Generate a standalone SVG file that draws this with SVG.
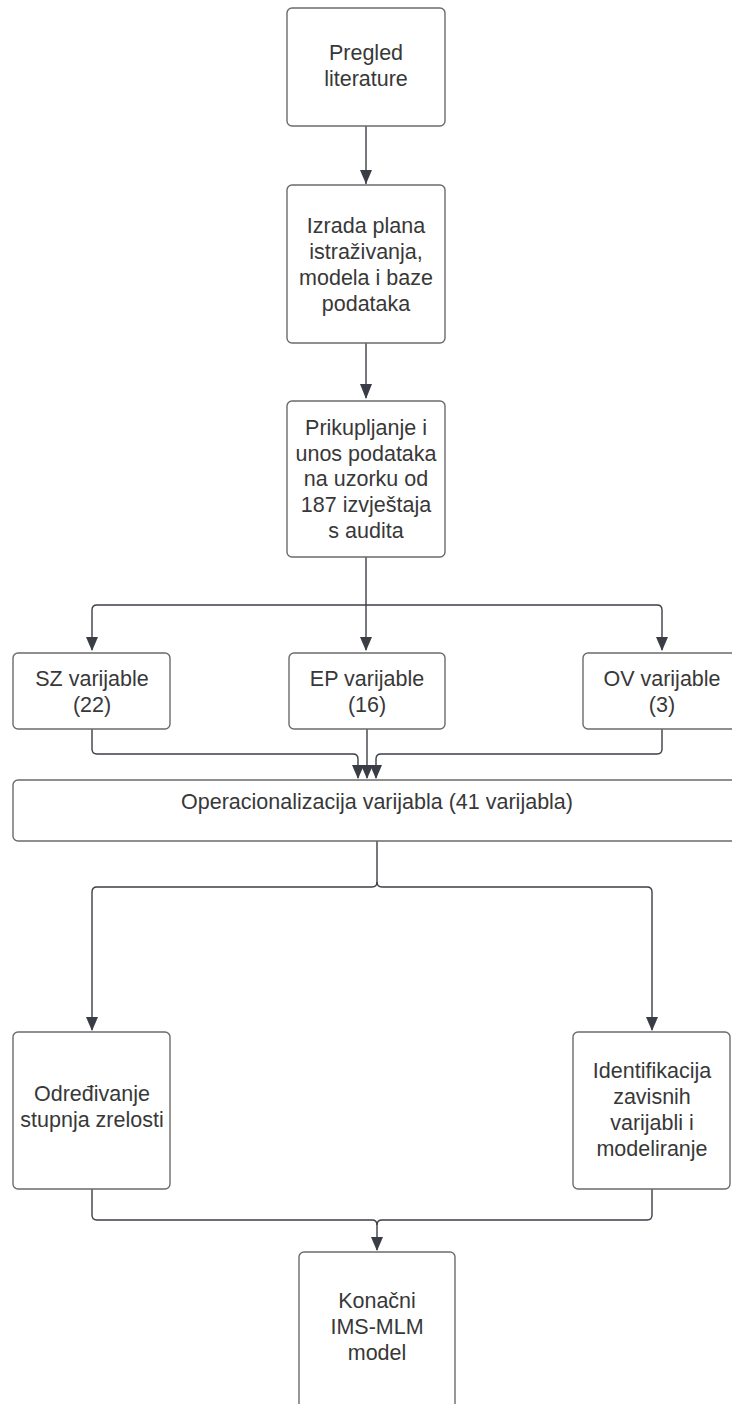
<svg xmlns="http://www.w3.org/2000/svg" width="732" height="1404" viewBox="0 0 732 1404">
<style>
.box{fill:#fff;stroke:#6b6b6b;stroke-width:1.4}
.t{font-family:"Liberation Sans",Arial,sans-serif;font-size:21.5px;fill:#383838;text-anchor:middle}
.c{fill:none;stroke:#3c3f47;stroke-width:1.4}
.ah{fill:#3a3d45}
</style>
<rect width="732" height="1404" fill="#fff"/>
<g id="connectors">
<path class="c" d="M366,126 V184"/>
<path class="ah" d="M360,170 L372,170 L366,184 Z"/>
<path class="c" d="M366,343 V398"/>
<path class="ah" d="M360,384 L372,384 L366,399 Z"/>
<path class="c" d="M366,557 V650"/>
<path class="c" d="M366,605 H97 Q92,605 92,610 V650"/>
<path class="c" d="M366,605 H657 Q662,605 662,610 V650"/>
<path class="ah" d="M86,637 L98,637 L92,651 Z"/>
<path class="ah" d="M360,637 L372,637 L366,651 Z"/>
<path class="ah" d="M656,637 L668,637 L662,651 Z"/>
<path class="c" d="M92,728 V749 Q92,754 97,754 H353 Q358,754 358,759 V778"/>
<path class="c" d="M367,728 V778"/>
<path class="c" d="M662,728 V749 Q662,754 657,754 H381 Q376,754 376,759 V778"/>
<path class="ah" d="M352,765 L364,765 L358,779 Z"/>
<path class="ah" d="M361,765 L373,765 L367,779 Z"/>
<path class="ah" d="M370,765 L382,765 L376,779 Z"/>
<path class="c" d="M377,841 V882 Q377,887 372,887 H97 Q92,887 92,892 V1030"/>
<path class="c" d="M377,882 Q377,887 382,887 H647 Q652,887 652,892 V1030"/>
<path class="ah" d="M86,1017 L98,1017 L92,1031 Z"/>
<path class="ah" d="M646,1017 L658,1017 L652,1031 Z"/>
<path class="c" d="M92,1189 V1215 Q92,1220 97,1220 H372 Q377,1220 377,1225 V1250"/>
<path class="c" d="M652,1189 V1215 Q652,1220 647,1220 H382 Q377,1220 377,1225"/>
<path class="ah" d="M371,1237 L383,1237 L377,1251 Z"/>
</g>
<g id="n1"><rect class="box" x="287" y="8" width="158" height="118" rx="5"/>
<text class="t" x="366" y="60">Pregled</text><text class="t" x="366" y="86">literature</text></g>
<g id="n2"><rect class="box" x="287" y="185" width="158" height="158" rx="5"/>
<text class="t" x="366" y="232.5">Izrada plana</text><text class="t" x="366" y="258.5">istraživanja,</text><text class="t" x="366" y="284.5">modela i baze</text><text class="t" x="366" y="310.5">podataka</text></g>
<g id="n3"><rect class="box" x="287" y="401" width="158" height="156" rx="5"/>
<text class="t" x="366" y="435">Prikupljanje i</text><text class="t" x="366" y="460.5">unos podataka</text><text class="t" x="366" y="486">na uzorku od</text><text class="t" x="366" y="511.5">187 izvještaja</text><text class="t" x="366" y="538">s audita</text></g>
<g id="n4"><rect class="box" x="13" y="653" width="157" height="76" rx="5"/>
<text class="t" x="92" y="685.5">SZ varijable</text><text class="t" x="92" y="712">(22)</text></g>
<g id="n5"><rect class="box" x="289" y="653" width="156" height="76" rx="5"/>
<text class="t" x="367" y="685.5">EP varijable</text><text class="t" x="367" y="712">(16)</text></g>
<g id="n6"><rect class="box" x="583" y="653" width="157" height="76" rx="5"/>
<text class="t" x="662" y="685.5">OV varijable</text><text class="t" x="662" y="712">(3)</text></g>
<g id="n7"><rect class="box" x="13" y="780" width="728" height="61" rx="5"/>
<text class="t" x="377" y="809">Operacionalizacija varijabla (41 varijabla)</text></g>
<g id="n8"><rect class="box" x="13" y="1032" width="157" height="157" rx="5"/>
<text class="t" x="92" y="1101">Određivanje</text><text class="t" x="92" y="1127">stupnja zrelosti</text></g>
<g id="n9"><rect class="box" x="573" y="1032" width="157" height="157" rx="5"/>
<text class="t" x="652" y="1078">Identifikacija</text><text class="t" x="652" y="1104">zavisnih</text><text class="t" x="652" y="1130">varijabli i</text><text class="t" x="652" y="1156">modeliranje</text></g>
<g id="n10"><rect class="box" x="299" y="1252" width="156" height="170" rx="5"/>
<text class="t" x="377" y="1307.5">Konačni</text><text class="t" x="377" y="1333.5">IMS-MLM</text><text class="t" x="377" y="1359.5">model</text></g>
</svg>
